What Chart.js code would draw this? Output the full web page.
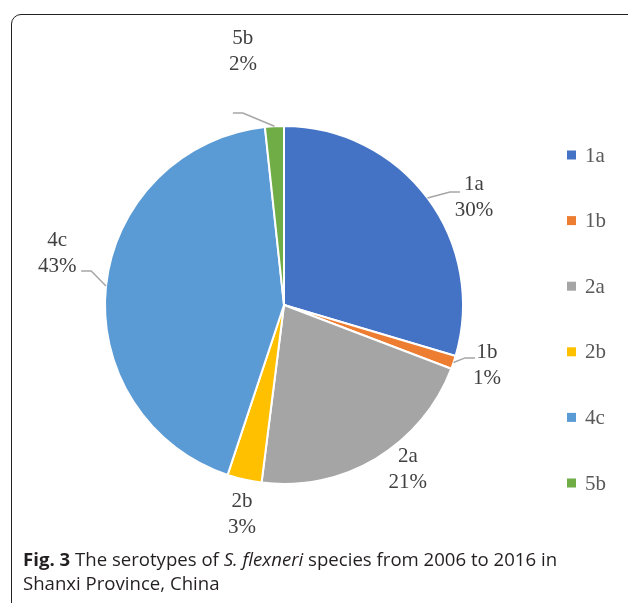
<!DOCTYPE html>
<html>
<head>
<meta charset="utf-8">
<script src="https://cdn.jsdelivr.net/npm/chart.js@4/dist/chart.umd.min.js"></script>
<style>
  html, body { margin: 0; padding: 0; background: #fff; overflow: hidden; }
  body { width: 628px; height: 603px; position: relative; }
  #frame {
    position: absolute; left: 11px; top: 14px; width: 640px; height: 640px;
    border: 1.5px solid #222; border-radius: 10px; box-sizing: border-box;
  }
  #chart { position: absolute; left: 0; top: 0; }
  #caption {
    position: absolute; left: 23px; top: 547px; width: 600px;
    font-family: "Open Sans", sans-serif; font-size: 18.6px; line-height: 24px;
    color: #231f20; white-space: nowrap;
  }
  #caption b { font-weight: 700; }
</style>
</head>
<body>
<div id="frame"></div>
<canvas id="chart" width="628" height="603"></canvas>
<div id="caption"><b>Fig. 3</b> The serotypes of <i>S. flexneri</i> species from 2006 to 2016 in<br>Shanxi Province, China</div>
<script>
// Serotype shares (%)
const serotypes = ['1a', '1b', '2a', '2b', '4c', '5b'];
const shares = [29.6, 1.2, 21.2, 3.1, 43.2, 1.7];
const sliceColors = ['#4472C4', '#ED7D31', '#A5A5A5', '#FFC000', '#5B9BD5', '#70AD47'];

// Where each two-line label sits: bearing (deg, clockwise from 12 o'clock) and
// distance in pie radii; optional leader as [elbow, end] offsets from the label centre.
const labelPlacement = [
  { deg: 60.6,  dist: 1.218, leader: [[-24, -6], [-14, -6]] },
  { deg: 106.7, dist: 1.184, leader: [[-22, -8], [-12, -8]] },
  { deg: 143.1, dist: 1.152, leader: null },
  { deg: 191.3, dist: 1.196, leader: null },
  { deg: 282.9, dist: 1.30,  leader: [[34, 18], [24, 18]] },
  { deg: 350.8, dist: 1.437, leader: [[0, 62], [-10, 62]] }
];

const labelFont = '21px "Liberation Serif", "Times New Roman", serif';

const sliceLabels = {
  id: 'sliceLabels',
  afterDatasetsDraw(chart) {
    const ctx = chart.ctx;
    const meta = chart.getDatasetMeta(0);
    const values = chart.data.datasets[0].data;
    const total = values.reduce((a, b) => a + b, 0);
    ctx.save();
    meta.data.forEach((arc, i) => {
      const { x, y, startAngle, endAngle, outerRadius } =
        arc.getProps(['x', 'y', 'startAngle', 'endAngle', 'outerRadius'], true);
      const p = labelPlacement[i];
      const a = (p.deg - 90) * Math.PI / 180;
      const tx = x + Math.cos(a) * p.dist * outerRadius;
      const ty = y + Math.sin(a) * p.dist * outerRadius;
      if (p.leader) {
        const mid = (startAngle + endAngle) / 2;
        ctx.beginPath();
        ctx.moveTo(x + Math.cos(mid) * outerRadius, y + Math.sin(mid) * outerRadius);
        ctx.lineTo(tx + p.leader[0][0], ty + p.leader[0][1]);
        ctx.lineTo(tx + p.leader[1][0], ty + p.leader[1][1]);
        ctx.strokeStyle = '#A6A6A6';
        ctx.lineWidth = 1.5;
        ctx.stroke();
      }
      ctx.font = labelFont;
      ctx.fillStyle = '#404040';
      ctx.textAlign = 'center';
      ctx.textBaseline = 'middle';
      ctx.fillText(chart.data.labels[i], tx, ty - 13);
      ctx.fillText(Math.round(values[i] / total * 100) + '%', tx, ty + 13);
    });
    ctx.restore();
  }
};

const sideLegend = {
  id: 'sideLegend',
  afterDraw(chart) {
    const ctx = chart.ctx;
    const colors = chart.data.datasets[0].backgroundColor;
    ctx.save();
    ctx.font = labelFont;
    ctx.textAlign = 'left';
    ctx.textBaseline = 'middle';
    chart.data.labels.forEach((lab, i) => {
      const cy = 155 + i * 65.6;
      ctx.fillStyle = colors[i];
      ctx.fillRect(567, cy - 4.5, 9, 9);
      ctx.fillStyle = '#595959';
      ctx.fillText(lab, 585, cy + 1);
    });
    ctx.restore();
  }
};

new Chart(document.getElementById('chart'), {
  type: 'pie',
  data: {
    labels: serotypes,
    datasets: [{
      data: shares,
      backgroundColor: sliceColors,
      borderColor: '#ffffff',
      borderWidth: 2
    }]
  },
  options: {
    responsive: false,
    animation: false,
    layout: { padding: { left: 104, top: 125, right: 164, bottom: 118 } },
    plugins: { legend: { display: false }, tooltip: { enabled: false } }
  },
  plugins: [sliceLabels, sideLegend]
});
</script>
</body>
</html>
